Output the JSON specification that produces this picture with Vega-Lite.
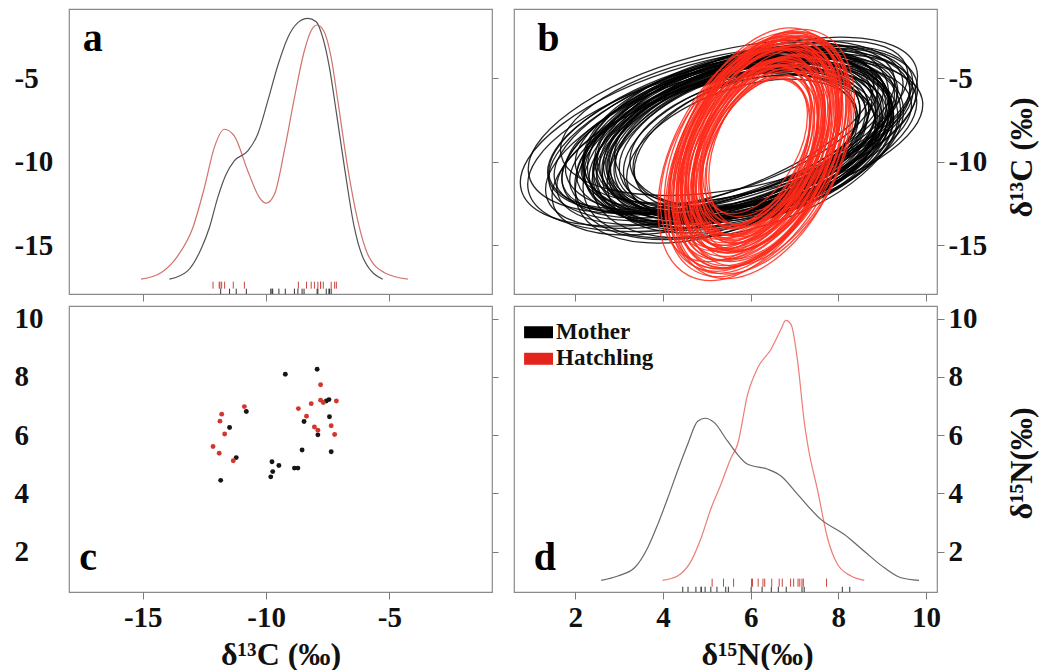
{
"$schema": "https://vega.github.io/schema/vega-lite/v6.json",
"background": "white",
"padding": {"left": 13, "top": 8, "right": 5, "bottom": 5},
"columns": 2,
"spacing": {"row": 12, "column": 22},
"bounds": "flush",
"datasets": {
"dens13": [
{"g":"Mother","c13":-13.92,"h":-17.05},{"g":"Mother","c13":-13.18,"h":-16.55},{"g":"Mother","c13":-12.64,"h":-15.25},{"g":"Mother","c13":-12.30,"h":-13.96},{"g":"Mother","c13":-11.96,"h":-12.15},{"g":"Mother","c13":-11.62,"h":-10.75},{"g":"Mother","c13":-11.29,"h":-9.95},{"g":"Mother","c13":-10.74,"h":-9.35},{"g":"Mother","c13":-10.34,"h":-8.35},{"g":"Mother","c13":-9.93,"h":-6.35},{"g":"Mother","c13":-9.53,"h":-4.25},{"g":"Mother","c13":-9.12,"h":-2.55},{"g":"Mother","c13":-8.71,"h":-1.65},{"g":"Mother","c13":-8.31,"h":-1.39},{"g":"Mother","c13":-7.97,"h":-1.59},{"g":"Mother","c13":-7.70,"h":-2.55},{"g":"Mother","c13":-7.43,"h":-4.35},{"g":"Mother","c13":-7.16,"h":-6.95},{"g":"Mother","c13":-6.82,"h":-10.35},{"g":"Mother","c13":-6.42,"h":-13.96},{"g":"Mother","c13":-6.01,"h":-15.95},{"g":"Mother","c13":-5.27,"h":-17.05},
{"g":"Hatchling","c13":-15.07,"h":-17.05},{"g":"Hatchling","c13":-14.26,"h":-16.66},{"g":"Hatchling","c13":-13.58,"h":-15.65},{"g":"Hatchling","c13":-12.97,"h":-13.96},{"g":"Hatchling","c13":-12.50,"h":-11.55},{"g":"Hatchling","c13":-12.10,"h":-9.15},{"g":"Hatchling","c13":-11.69,"h":-8.05},{"g":"Hatchling","c13":-11.29,"h":-8.45},{"g":"Hatchling","c13":-10.74,"h":-10.55},{"g":"Hatchling","c13":-10.27,"h":-12.15},{"g":"Hatchling","c13":-10.00,"h":-12.49},{"g":"Hatchling","c13":-9.66,"h":-11.95},{"g":"Hatchling","c13":-9.26,"h":-9.35},{"g":"Hatchling","c13":-8.85,"h":-6.15},{"g":"Hatchling","c13":-8.45,"h":-3.35},{"g":"Hatchling","c13":-8.18,"h":-2.15},{"g":"Hatchling","c13":-7.93,"h":-1.79},{"g":"Hatchling","c13":-7.66,"h":-2.15},{"g":"Hatchling","c13":-7.36,"h":-3.75},{"g":"Hatchling","c13":-7.09,"h":-6.35},{"g":"Hatchling","c13":-6.69,"h":-10.35},{"g":"Hatchling","c13":-6.28,"h":-13.55},{"g":"Hatchling","c13":-5.88,"h":-15.55},{"g":"Hatchling","c13":-5.20,"h":-16.66},{"g":"Hatchling","c13":-4.25,"h":-17.05}
],
"dens15": [
{"g":"Mother","n15":2.59,"h":1.02},{"g":"Mother","n15":2.97,"h":1.17},{"g":"Mother","n15":3.35,"h":1.45},{"g":"Mother","n15":3.65,"h":2.14},{"g":"Mother","n15":3.88,"h":2.94},{"g":"Mother","n15":4.11,"h":3.85},{"g":"Mother","n15":4.33,"h":4.77},{"g":"Mother","n15":4.56,"h":5.68},{"g":"Mother","n15":4.79,"h":6.48},{"g":"Mother","n15":4.96,"h":6.58},{"g":"Mother","n15":5.17,"h":6.43},{"g":"Mother","n15":5.47,"h":5.80},{"g":"Mother","n15":5.93,"h":5.00},{"g":"Mother","n15":6.39,"h":4.83},{"g":"Mother","n15":6.69,"h":4.60},{"g":"Mother","n15":7.07,"h":3.97},{"g":"Mother","n15":7.60,"h":3.11},{"g":"Mother","n15":8.13,"h":2.60},{"g":"Mother","n15":8.59,"h":2.02},{"g":"Mother","n15":9.05,"h":1.45},{"g":"Mother","n15":9.43,"h":1.11},{"g":"Mother","n15":9.84,"h":1.02},
{"g":"Hatchling","n15":3.99,"h":1.02},{"g":"Hatchling","n15":4.33,"h":1.17},{"g":"Hatchling","n15":4.64,"h":1.68},{"g":"Hatchling","n15":4.87,"h":2.48},{"g":"Hatchling","n15":5.10,"h":3.51},{"g":"Hatchling","n15":5.32,"h":4.31},{"g":"Hatchling","n15":5.55,"h":5.22},{"g":"Hatchling","n15":5.70,"h":5.68},{"g":"Hatchling","n15":5.93,"h":7.40},{"g":"Hatchling","n15":6.16,"h":8.31},{"g":"Hatchling","n15":6.46,"h":8.94},{"g":"Hatchling","n15":6.69,"h":9.63},{"g":"Hatchling","n15":6.80,"h":9.94},{"g":"Hatchling","n15":6.92,"h":9.80},{"g":"Hatchling","n15":7.07,"h":8.54},{"g":"Hatchling","n15":7.22,"h":6.48},{"g":"Hatchling","n15":7.30,"h":5.68},{"g":"Hatchling","n15":7.53,"h":4.08},{"g":"Hatchling","n15":7.75,"h":2.48},{"g":"Hatchling","n15":7.98,"h":1.57},{"g":"Hatchling","n15":8.29,"h":1.17},{"g":"Hatchling","n15":8.59,"h":1.02}
],
"indiv": [
{"g":"Mother","c13":-9.22,"n15":8.09},{"g":"Mother","c13":-7.93,"n15":8.26},{"g":"Mother","c13":-7.45,"n15":7.22},{"g":"Mother","c13":-7.56,"n15":7.17},{"g":"Mother","c13":-10.80,"n15":6.81},{"g":"Mother","c13":-11.48,"n15":6.26},{"g":"Mother","c13":-8.46,"n15":6.47},{"g":"Mother","c13":-7.43,"n15":6.63},{"g":"Mother","c13":-7.90,"n15":6.01},{"g":"Mother","c13":-8.54,"n15":5.49},{"g":"Mother","c13":-7.36,"n15":5.43},{"g":"Mother","c13":-11.21,"n15":5.23},{"g":"Mother","c13":-9.76,"n15":5.09},{"g":"Mother","c13":-9.48,"n15":4.96},{"g":"Mother","c13":-9.73,"n15":4.75},{"g":"Mother","c13":-9.81,"n15":4.57},{"g":"Mother","c13":-8.85,"n15":4.87},{"g":"Mother","c13":-8.71,"n15":4.87},{"g":"Mother","c13":-11.84,"n15":4.45},
{"g":"Hatchling","c13":-7.79,"n15":7.73},{"g":"Hatchling","c13":-10.88,"n15":6.98},{"g":"Hatchling","c13":-11.80,"n15":6.72},{"g":"Hatchling","c13":-11.87,"n15":6.48},{"g":"Hatchling","c13":-8.69,"n15":6.91},{"g":"Hatchling","c13":-8.17,"n15":7.08},{"g":"Hatchling","c13":-7.79,"n15":7.20},{"g":"Hatchling","c13":-7.68,"n15":7.12},{"g":"Hatchling","c13":-7.15,"n15":7.17},{"g":"Hatchling","c13":-8.36,"n15":6.65},{"g":"Hatchling","c13":-8.04,"n15":6.28},{"g":"Hatchling","c13":-7.90,"n15":6.17},{"g":"Hatchling","c13":-7.36,"n15":6.32},{"g":"Hatchling","c13":-7.22,"n15":6.02},{"g":"Hatchling","c13":-11.68,"n15":6.04},{"g":"Hatchling","c13":-12.15,"n15":5.61},{"g":"Hatchling","c13":-11.90,"n15":5.38},{"g":"Hatchling","c13":-11.33,"n15":5.12}
],
"legend": [{"g":"Mother"},{"g":"Hatchling"}],
"ell": [
{"g":"Mother","n15":5.60,"c13":-8.30,"len":8.7,"tilt":16},{"g":"Mother","n15":5.85,"c13":-7.90,"len":7.9,"tilt":14},{"g":"Mother","n15":5.30,"c13":-8.80,"len":8.3,"tilt":18},{"g":"Mother","n15":5.96,"c13":-8.45,"len":6.7,"tilt":15},{"g":"Mother","n15":5.69,"c13":-8.90,"len":6.1,"tilt":19},{"g":"Mother","n15":6.05,"c13":-8.80,"len":5.7,"tilt":12},{"g":"Mother","n15":5.25,"c13":-8.10,"len":7.5,"tilt":20},{"g":"Mother","n15":5.84,"c13":-9.08,"len":6.9,"tilt":16},{"g":"Mother","n15":5.65,"c13":-7.55,"len":8.1,"tilt":11},{"g":"Mother","n15":5.45,"c13":-9.15,"len":7.3,"tilt":22},{"g":"Mother","n15":6.08,"c13":-8.60,"len":6.5,"tilt":15},{"g":"Mother","n15":5.63,"c13":-8.50,"len":5.9,"tilt":17},{"g":"Mother","n15":5.90,"c13":-8.55,"len":7.7,"tilt":13},{"g":"Mother","n15":5.05,"c13":-8.50,"len":8.9,"tilt":16},{"g":"Mother","n15":5.81,"c13":-9.20,"len":5.5,"tilt":19},{"g":"Mother","n15":5.99,"c13":-8.40,"len":7.1,"tilt":12},{"g":"Mother","n15":5.66,"c13":-8.70,"len":7.4,"tilt":23},{"g":"Mother","n15":6.11,"c13":-8.95,"len":6.2,"tilt":16},{"g":"Mother","n15":5.35,"c13":-8.90,"len":9.1,"tilt":14},{"g":"Mother","n15":5.87,"c13":-8.73,"len":5.3,"tilt":18},{"g":"Mother","n15":5.51,"c13":-8.48,"len":6.8,"tilt":13},{"g":"Mother","n15":5.75,"c13":-7.95,"len":8.5,"tilt":19},{"g":"Mother","n15":5.72,"c13":-9.10,"len":6.4,"tilt":10},{"g":"Mother","n15":5.95,"c13":-7.85,"len":7.7,"tilt":21},{"g":"Mother","n15":5.57,"c13":-8.83,"len":5.8,"tilt":15},{"g":"Mother","n15":5.78,"c13":-8.80,"len":7.0,"tilt":17},{"g":"Mother","n15":5.69,"c13":-8.58,"len":6.6,"tilt":12},{"g":"Mother","n15":5.90,"c13":-9.13,"len":7.3,"tilt":18},{"g":"Mother","n15":5.35,"c13":-8.25,"len":8.2,"tilt":15},{"g":"Mother","n15":6.02,"c13":-8.68,"len":5.6,"tilt":20},{"g":"Mother","n15":5.15,"c13":-8.05,"len":7.8,"tilt":17},{"g":"Mother","n15":5.81,"c13":-8.95,"len":6.3,"tilt":13},{"g":"Mother","n15":5.66,"c13":-8.43,"len":7.2,"tilt":16},{"g":"Mother","n15":6.08,"c13":-8.83,"len":6.7,"tilt":14},{"g":"Mother","n15":5.55,"c13":-8.80,"len":8.6,"tilt":20},{"g":"Mother","n15":5.87,"c13":-8.63,"len":6.0,"tilt":9},{"g":"Mother","n15":5.54,"c13":-9.08,"len":7.4,"tilt":19},{"g":"Mother","n15":5.90,"c13":-8.35,"len":8.0,"tilt":16},{"g":"Mother","n15":5.69,"c13":-8.53,"len":6.5,"tilt":22},{"g":"Mother","n15":5.75,"c13":-8.68,"len":7.1,"tilt":14},{"g":"Mother","n15":5.45,"c13":-8.78,"len":6.7,"tilt":17},{"g":"Mother","n15":6.05,"c13":-7.80,"len":7.6,"tilt":18},{"g":"Mother","n15":5.63,"c13":-8.90,"len":6.2,"tilt":15},{"g":"Mother","n15":5.85,"c13":-8.50,"len":8.3,"tilt":12},{"g":"Mother","n15":5.75,"c13":-8.63,"len":5.7,"tilt":18},{"g":"Mother","n15":5.30,"c13":-9.15,"len":7.7,"tilt":16},{"g":"Mother","n15":5.96,"c13":-9.00,"len":6.8,"tilt":21},{"g":"Mother","n15":5.20,"c13":-7.90,"len":8.8,"tilt":15},{"g":"Mother","n15":5.81,"c13":-8.40,"len":6.9,"tilt":17},{"g":"Mother","n15":5.45,"c13":-8.40,"len":7.5,"tilt":19},{"g":"Mother","n15":5.84,"c13":-8.98,"len":7.0,"tilt":14},{"g":"Mother","n15":5.75,"c13":-8.48,"len":6.4,"tilt":16},{"g":"Mother","n15":5.60,"c13":-8.75,"len":6.9,"tilt":11},{"g":"Mother","n15":5.93,"c13":-8.70,"len":6.3,"tilt":17},{"g":"Mother","n15":5.40,"c13":-8.00,"len":8.1,"tilt":18},{"g":"Mother","n15":5.72,"c13":-8.85,"len":7.2,"tilt":13},
{"g":"Hatchling","n15":6.15,"c13":-9.30,"len":5.22,"tilt":63},{"g":"Hatchling","n15":6.25,"c13":-9.00,"len":4.44,"tilt":61},{"g":"Hatchling","n15":6.05,"c13":-9.60,"len":5.74,"tilt":65},{"g":"Hatchling","n15":6.30,"c13":-8.90,"len":3.66,"tilt":59},{"g":"Hatchling","n15":6.10,"c13":-9.15,"len":4.83,"tilt":67},{"g":"Hatchling","n15":6.20,"c13":-9.70,"len":5.48,"tilt":62},{"g":"Hatchling","n15":6.00,"c13":-9.40,"len":4.18,"tilt":64},{"g":"Hatchling","n15":6.35,"c13":-9.20,"len":4.70,"tilt":60},{"g":"Hatchling","n15":6.15,"c13":-8.85,"len":3.92,"tilt":66},{"g":"Hatchling","n15":5.95,"c13":-9.80,"len":6.00,"tilt":63},{"g":"Hatchling","n15":6.25,"c13":-9.45,"len":5.09,"tilt":68},{"g":"Hatchling","n15":6.10,"c13":-9.00,"len":3.40,"tilt":61},{"g":"Hatchling","n15":6.40,"c13":-9.35,"len":5.61,"tilt":64},{"g":"Hatchling","n15":6.05,"c13":-9.20,"len":4.57,"tilt":59},{"g":"Hatchling","n15":6.20,"c13":-9.10,"len":4.31,"tilt":65},{"g":"Hatchling","n15":6.15,"c13":-9.60,"len":6.00,"tilt":62},{"g":"Hatchling","n15":6.30,"c13":-9.15,"len":3.79,"tilt":67},{"g":"Hatchling","n15":6.00,"c13":-9.25,"len":4.96,"tilt":60},{"g":"Hatchling","n15":6.25,"c13":-8.95,"len":5.35,"tilt":63},{"g":"Hatchling","n15":6.10,"c13":-9.70,"len":4.05,"tilt":66},{"g":"Hatchling","n15":6.20,"c13":-9.35,"len":5.87,"tilt":61},{"g":"Hatchling","n15":6.05,"c13":-8.95,"len":4.44,"tilt":64},{"g":"Hatchling","n15":6.35,"c13":-9.50,"len":4.83,"tilt":62},{"g":"Hatchling","n15":6.15,"c13":-9.40,"len":3.53,"tilt":65},{"g":"Hatchling","n15":5.90,"c13":-9.45,"len":5.48,"tilt":59},{"g":"Hatchling","n15":6.30,"c13":-9.40,"len":6.00,"tilt":63},{"g":"Hatchling","n15":6.10,"c13":-9.25,"len":4.31,"tilt":68},{"g":"Hatchling","n15":6.20,"c13":-8.90,"len":5.09,"tilt":60},{"g":"Hatchling","n15":6.05,"c13":-9.65,"len":4.70,"tilt":64},{"g":"Hatchling","n15":6.25,"c13":-9.20,"len":3.92,"tilt":62},{"g":"Hatchling","n15":6.15,"c13":-9.10,"len":5.74,"tilt":66},{"g":"Hatchling","n15":6.00,"c13":-9.05,"len":5.22,"tilt":61},{"g":"Hatchling","n15":6.30,"c13":-9.65,"len":4.57,"tilt":65},{"g":"Hatchling","n15":6.10,"c13":-9.45,"len":3.66,"tilt":63},{"g":"Hatchling","n15":6.20,"c13":-9.20,"len":5.61,"tilt":59},{"g":"Hatchling","n15":5.95,"c13":-9.25,"len":4.83,"tilt":67},{"g":"Hatchling","n15":6.40,"c13":-9.10,"len":4.44,"tilt":62},{"g":"Hatchling","n15":6.15,"c13":-9.80,"len":5.35,"tilt":64},{"g":"Hatchling","n15":6.05,"c13":-9.30,"len":4.18,"tilt":60},{"g":"Hatchling","n15":6.25,"c13":-9.60,"len":6.00,"tilt":65},{"g":"Hatchling","n15":6.10,"c13":-8.95,"len":4.96,"tilt":63},{"g":"Hatchling","n15":6.20,"c13":-9.45,"len":3.79,"tilt":61},{"g":"Hatchling","n15":6.00,"c13":-9.55,"len":5.09,"tilt":66},{"g":"Hatchling","n15":6.30,"c13":-9.25,"len":5.48,"tilt":64},{"g":"Hatchling","n15":6.15,"c13":-9.15,"len":4.31,"tilt":62},{"g":"Hatchling","n15":6.05,"c13":-9.40,"len":5.87,"tilt":63},{"g":"Hatchling","n15":6.25,"c13":-9.05,"len":4.70,"tilt":67},{"g":"Hatchling","n15":6.10,"c13":-9.55,"len":4.44,"tilt":59},{"g":"Hatchling","n15":6.20,"c13":-9.00,"len":5.22,"tilt":65},{"g":"Hatchling","n15":5.95,"c13":-9.15,"len":4.05,"tilt":61},{"g":"Hatchling","n15":6.35,"c13":-9.30,"len":4.96,"tilt":63},{"g":"Hatchling","n15":6.15,"c13":-9.50,"len":5.74,"tilt":60},{"g":"Hatchling","n15":6.05,"c13":-9.00,"len":3.92,"tilt":64},{"g":"Hatchling","n15":6.20,"c13":-9.70,"len":4.57,"tilt":62},{"g":"Hatchling","n15":6.10,"c13":-9.30,"len":5.35,"tilt":66},{"g":"Hatchling","n15":6.25,"c13":-9.35,"len":4.18,"tilt":63}
]
},
"concat": [
{
"width": 423, "height": 285,
"layer": [
{"data": {"name": "dens13"},
 "mark": {"type": "line", "interpolate": "monotone", "strokeWidth": 1.2, "strokeOpacity": 0.75},
 "encoding": {
  "x": {"field": "c13", "type": "quantitative", "scale": {"domain": [-17.99, -0.84], "nice": false, "zero": false}, "axis": {"orient": "bottom", "values": [-15, -10, -5], "labels": false, "tickSize": 7, "title": null}},
  "y": {"field": "h", "type": "quantitative", "scale": {"domain": [-17.94, -0.83], "nice": false, "zero": false}, "axis": {"orient": "left", "values": [-15, -10, -5], "ticks": false, "tickSize": 0, "labelPadding": 55, "labelAlign": "left", "labelExpr": "replace(datum.label, '\u2212', '-')", "title": null}},
  "color": {"field": "g", "type": "nominal", "scale": {"domain": ["Mother", "Hatchling"], "range": ["#1a1a1a", "#c0443c"]}, "legend": null}
 }},
{"data": {"name": "indiv"}, "transform": [{"filter": "datum.g === 'Hatchling'"}],
 "mark": {"type": "rule", "color": "#c8463e", "strokeWidth": 1},
 "encoding": {
  "x": {"field": "c13", "type": "quantitative", "scale": {"domain": [-17.99, -0.84], "nice": false, "zero": false}, "axis": null},
  "y": {"datum": -17.2, "type": "quantitative", "scale": {"domain": [-17.94, -0.83], "nice": false, "zero": false}, "axis": {"orient": "right", "values": [-15, -10, -5], "labels": false, "tickSize": 6, "title": null}},
  "y2": {"datum": -17.62}
 }},
{"data": {"name": "indiv"}, "transform": [{"filter": "datum.g === 'Mother'"}],
 "mark": {"type": "rule", "color": "#333333", "strokeWidth": 1},
 "encoding": {
  "x": {"field": "c13", "type": "quantitative", "scale": {"domain": [-17.99, -0.84], "nice": false, "zero": false}, "axis": null},
  "y": {"datum": -17.62, "type": "quantitative", "scale": {"domain": [-17.94, -0.83], "nice": false, "zero": false}, "axis": null},
  "y2": {"datum": -17.94}
 }},
{"data": {"values": [{"label": "a"}]},
 "mark": {"type": "text", "align": "left", "baseline": "alphabetic", "font": "Liberation Serif", "fontWeight": "bold", "fontSize": 40, "color": "#000"},
 "encoding": {
  "text": {"field": "label"},
  "x": {"datum": -17.43, "type": "quantitative", "scale": {"domain": [-17.99, -0.84], "nice": false, "zero": false}, "axis": null},
  "y": {"datum": -3.35, "type": "quantitative", "scale": {"domain": [-17.94, -0.83], "nice": false, "zero": false}, "axis": null}
 }}
],
"resolve": {"axis": {"x": "independent", "y": "independent"}}
},
{
"width": 423, "height": 285,
"layer": [
{"data": {"name": "ell"}, "transform": [{"filter": "datum.g === 'Mother' && datum.len >= 7.5"}],
 "mark": {"type": "point", "shape": "M1,0C1,0.2099,0.5523,0.38,0,0.38C-0.5523,0.38,-1,0.2099,-1,0C-1,-0.2099,-0.5523,-0.38,0,-0.38C0.5523,-0.38,1,-0.2099,1,0Z", "filled": false, "stroke": "#000000", "strokeWidth": 1.3, "strokeOpacity": 0.85, "opacity": 1, "clip": true},
 "encoding": {
  "x": {"field": "n15", "type": "quantitative", "scale": {"domain": [0.6, 10.25], "nice": false, "zero": false}, "axis": {"orient": "bottom", "values": [2, 4, 6, 8, 10], "labels": false, "tickSize": 7, "title": null}},
  "y": {"field": "c13", "type": "quantitative", "scale": {"domain": [-17.94, -0.83], "nice": false, "zero": false}, "axis": {"orient": "right", "values": [-15, -10, -5], "tickSize": 7, "labelPadding": 4, "labelExpr": "replace(datum.label, '\u2212', '-')", "title": "δ¹³C (‰)", "titleAngle": 270, "titleX": 84, "titleY": 148, "titleAlign": "center", "titleBaseline": "middle"}},
  "size": {"field": "len", "type": "quantitative", "scale": {"type": "pow", "exponent": 2, "domain": [0, 10], "range": [0, 192370]}, "legend": null},
  "angle": {"field": "tilt", "type": "quantitative", "scale": {"domain": [0, 360], "range": [360, 0]}, "legend": null}
 }},
{"data": {"name": "ell"}, "transform": [{"filter": "datum.g === 'Mother' && datum.len < 7.5"}],
 "mark": {"type": "point", "shape": "M1,0C1,0.2762,0.5523,0.5,0,0.5C-0.5523,0.5,-1,0.2762,-1,0C-1,-0.2762,-0.5523,-0.5,0,-0.5C0.5523,-0.5,1,-0.2762,1,0Z", "filled": false, "stroke": "#000000", "strokeWidth": 1.3, "strokeOpacity": 0.85, "opacity": 1, "clip": true},
 "encoding": {
  "x": {"field": "n15", "type": "quantitative", "scale": {"domain": [0.6, 10.25], "nice": false, "zero": false}, "axis": null},
  "y": {"field": "c13", "type": "quantitative", "scale": {"domain": [-17.94, -0.83], "nice": false, "zero": false}, "axis": null},
  "size": {"field": "len", "type": "quantitative", "scale": {"type": "pow", "exponent": 2, "domain": [0, 10], "range": [0, 192370]}, "legend": null},
  "angle": {"field": "tilt", "type": "quantitative", "scale": {"domain": [0, 360], "range": [360, 0]}, "legend": null}
 }},
{"data": {"name": "ell"}, "transform": [{"filter": "datum.g === 'Hatchling'"}],
 "mark": {"type": "point", "shape": "M1,0C1,0.3203,0.5523,0.58,0,0.58C-0.5523,0.58,-1,0.3203,-1,0C-1,-0.3203,-0.5523,-0.58,0,-0.58C0.5523,-0.58,1,-0.3203,1,0Z", "filled": false, "stroke": "#ff2a1a", "strokeWidth": 1.3, "strokeOpacity": 0.85, "opacity": 1, "clip": true},
 "encoding": {
  "x": {"field": "n15", "type": "quantitative", "scale": {"domain": [0.6, 10.25], "nice": false, "zero": false}, "axis": null},
  "y": {"field": "c13", "type": "quantitative", "scale": {"domain": [-17.94, -0.83], "nice": false, "zero": false}, "axis": null},
  "size": {"field": "len", "type": "quantitative", "scale": {"type": "pow", "exponent": 2, "domain": [0, 10], "range": [0, 192370]}, "legend": null},
  "angle": {"field": "tilt", "type": "quantitative", "scale": {"domain": [0, 360], "range": [360, 0]}, "legend": null}
 }},
{"data": {"values": [{"label": "b"}]},
 "mark": {"type": "text", "align": "left", "baseline": "alphabetic", "font": "Liberation Serif", "fontWeight": "bold", "fontSize": 40, "color": "#000"},
 "encoding": {
  "text": {"field": "label"},
  "x": {"datum": 1.13, "type": "quantitative", "scale": {"domain": [0.6, 10.25], "nice": false, "zero": false}, "axis": null},
  "y": {"datum": -3.35, "type": "quantitative", "scale": {"domain": [-17.94, -0.83], "nice": false, "zero": false}, "axis": null}
 }}
],
"resolve": {"axis": {"x": "independent", "y": "independent"}}
},
{
"width": 423, "height": 286,
"layer": [
{"data": {"name": "indiv"},
 "mark": {"type": "point", "filled": true, "size": 24, "opacity": 1},
 "encoding": {
  "x": {"field": "c13", "type": "quantitative", "scale": {"domain": [-17.99, -0.84], "nice": false, "zero": false}, "axis": {"orient": "bottom", "values": [-15, -10, -5], "tickSize": 7, "labelPadding": 4, "labelExpr": "replace(datum.label, '\u2212', '-')", "title": "δ¹³C (‰)", "titleX": 211.5, "titleY": 62, "titleAlign": "center", "titleBaseline": "middle"}},
  "y": {"field": "n15", "type": "quantitative", "scale": {"domain": [0.62, 10.43], "nice": false, "zero": false}, "axis": {"orient": "left", "values": [2, 4, 6, 8, 10], "ticks": false, "tickSize": 0, "labelPadding": 55, "labelAlign": "left", "title": null}},
  "color": {"field": "g", "type": "nominal", "scale": {"domain": ["Mother", "Hatchling"], "range": ["#151515", "#d0382e"]}, "legend": null}
 }},
{"data": {"values": [{"label": "c"}]},
 "mark": {"type": "text", "align": "left", "baseline": "alphabetic", "font": "Liberation Serif", "fontWeight": "bold", "fontSize": 40, "color": "#000"},
 "encoding": {
  "text": {"field": "label"},
  "x": {"datum": -17.57, "type": "quantitative", "scale": {"domain": [-17.99, -0.84], "nice": false, "zero": false}, "axis": null},
  "y": {"datum": 1.38, "type": "quantitative", "scale": {"domain": [0.62, 10.43], "nice": false, "zero": false}, "axis": {"orient": "right", "values": [2, 4, 6, 8, 10], "labels": false, "tickSize": 6, "title": null}}
 }}
],
"resolve": {"axis": {"x": "independent", "y": "independent"}}
},
{
"width": 423, "height": 286,
"layer": [
{"data": {"name": "dens15"},
 "mark": {"type": "line", "interpolate": "monotone", "strokeWidth": 1.2, "strokeOpacity": 0.6},
 "encoding": {
  "x": {"field": "n15", "type": "quantitative", "scale": {"domain": [0.6, 10.25], "nice": false, "zero": false}, "axis": {"orient": "bottom", "values": [2, 4, 6, 8, 10], "tickSize": 7, "labelPadding": 4, "title": "δ¹⁵N(‰)", "titleX": 243, "titleY": 62, "titleAlign": "center", "titleBaseline": "middle"}},
  "y": {"field": "h", "type": "quantitative", "scale": {"domain": [0.62, 10.43], "nice": false, "zero": false}, "axis": {"orient": "right", "values": [2, 4, 6, 8, 10], "tickSize": 7, "labelPadding": 4, "title": "δ¹⁵N(‰)", "titleAngle": 270, "titleX": 84, "titleY": 157, "titleAlign": "center", "titleBaseline": "middle"}},
  "color": {"field": "g", "type": "nominal", "scale": {"domain": ["Mother", "Hatchling"], "range": ["#000000", "#e3241c"]}, "legend": null}
 }},
{"data": {"name": "indiv"}, "transform": [{"filter": "datum.g === 'Hatchling'"}],
 "mark": {"type": "rule", "color": "#c8463e", "strokeWidth": 1},
 "encoding": {
  "x": {"field": "n15", "type": "quantitative", "scale": {"domain": [0.6, 10.25], "nice": false, "zero": false}, "axis": null},
  "y": {"datum": 1.08, "type": "quantitative", "scale": {"domain": [0.62, 10.43], "nice": false, "zero": false}, "axis": null},
  "y2": {"datum": 0.8}
 }},
{"data": {"name": "indiv"}, "transform": [{"filter": "datum.g === 'Mother'"}],
 "mark": {"type": "rule", "color": "#333333", "strokeWidth": 1},
 "encoding": {
  "x": {"field": "n15", "type": "quantitative", "scale": {"domain": [0.6, 10.25], "nice": false, "zero": false}, "axis": null},
  "y": {"datum": 0.8, "type": "quantitative", "scale": {"domain": [0.62, 10.43], "nice": false, "zero": false}, "axis": null},
  "y2": {"datum": 0.62}
 }},
{"data": {"name": "legend"}, "transform": [{"filter": "datum.g === 'Mother'"}],
 "mark": {"type": "rule", "color": "#000000", "strokeWidth": 12},
 "encoding": {
  "x": {"datum": 0.83, "type": "quantitative", "scale": {"domain": [0.6, 10.25], "nice": false, "zero": false}, "axis": null},
  "x2": {"datum": 1.49},
  "y": {"datum": 9.53, "type": "quantitative", "scale": {"domain": [0.62, 10.43], "nice": false, "zero": false}, "axis": null}
 }},
{"data": {"name": "legend"}, "transform": [{"filter": "datum.g === 'Hatchling'"}],
 "mark": {"type": "rule", "color": "#e3241c", "strokeWidth": 12},
 "encoding": {
  "x": {"datum": 0.83, "type": "quantitative", "scale": {"domain": [0.6, 10.25], "nice": false, "zero": false}, "axis": null},
  "x2": {"datum": 1.49},
  "y": {"datum": 8.62, "type": "quantitative", "scale": {"domain": [0.62, 10.43], "nice": false, "zero": false}, "axis": null}
 }},
{"data": {"name": "legend"}, "transform": [{"filter": "datum.g === 'Mother'"}],
 "mark": {"type": "text", "align": "left", "baseline": "alphabetic", "font": "Liberation Serif", "fontWeight": "bold", "fontSize": 23, "color": "#111111"},
 "encoding": {
  "text": {"field": "g"},
  "x": {"datum": 1.56, "type": "quantitative", "scale": {"domain": [0.6, 10.25], "nice": false, "zero": false}, "axis": null},
  "y": {"datum": 9.3, "type": "quantitative", "scale": {"domain": [0.62, 10.43], "nice": false, "zero": false}, "axis": null}
 }},
{"data": {"name": "legend"}, "transform": [{"filter": "datum.g === 'Hatchling'"}],
 "mark": {"type": "text", "align": "left", "baseline": "alphabetic", "font": "Liberation Serif", "fontWeight": "bold", "fontSize": 23, "color": "#111111"},
 "encoding": {
  "text": {"field": "g"},
  "x": {"datum": 1.56, "type": "quantitative", "scale": {"domain": [0.6, 10.25], "nice": false, "zero": false}, "axis": null},
  "y": {"datum": 8.4, "type": "quantitative", "scale": {"domain": [0.62, 10.43], "nice": false, "zero": false}, "axis": null}
 }},
{"data": {"values": [{"label": "d"}]},
 "mark": {"type": "text", "align": "left", "baseline": "alphabetic", "font": "Liberation Serif", "fontWeight": "bold", "fontSize": 40, "color": "#000"},
 "encoding": {
  "text": {"field": "label"},
  "x": {"datum": 1.05, "type": "quantitative", "scale": {"domain": [0.6, 10.25], "nice": false, "zero": false}, "axis": null},
  "y": {"datum": 1.38, "type": "quantitative", "scale": {"domain": [0.62, 10.43], "nice": false, "zero": false}, "axis": null}
 }}
],
"resolve": {"axis": {"x": "independent", "y": "independent"}}
}
],
"resolve": {"scale": {"color": "independent"}},
"config": {
 "font": "Liberation Serif",
 "view": {"stroke": "#8a8a8a", "strokeWidth": 1.2},
 "axis": {"domain": false, "grid": false, "labelFont": "Liberation Serif", "labelFontWeight": "bold", "labelFontSize": 29, "labelColor": "#111111", "labelFlush": false, "labelOverlap": false, "tickColor": "#7a7a7a", "tickWidth": 1, "titleFont": "Liberation Serif", "titleFontWeight": "bold", "titleFontSize": 32, "titleColor": "#111111"}
}
}
